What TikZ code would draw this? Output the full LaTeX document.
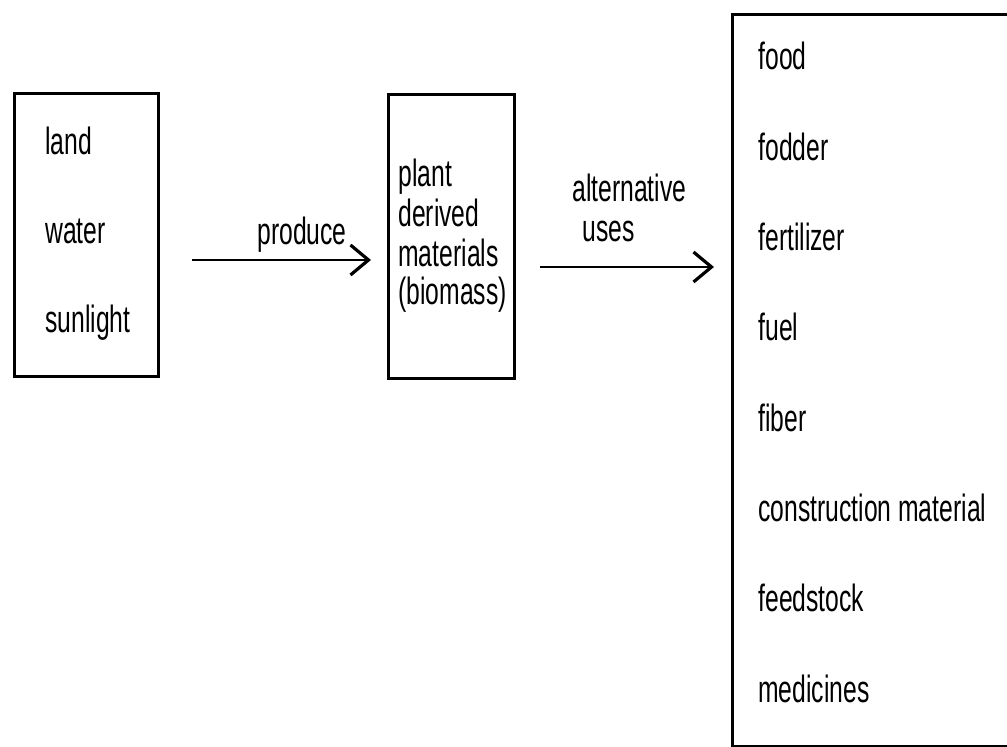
\documentclass[tikz,border=0pt]{standalone}
\usepackage{fontspec}
\setmainfont{Liberation Sans}[FakeStretch=0.65]
\usepackage{tikz}
\usetikzlibrary{positioning, calc, arrows.meta}

\begin{document}
\begin{tikzpicture}[x=0.5pt, y=-0.5pt]
			\tikzset{box/.style={draw, line width=1.3pt, rectangle, anchor=north west, inner sep=0pt}}
			\tikzset{item/.style={anchor=base west, inner sep=0pt, font=\fontsize{19}{19}\selectfont}}
			\tikzset{arrow/.style={line width=1pt, -{Straight Barb[length=9pt, width=15pt, line width=1.6pt]}}}

			\clip (0,0) rectangle (1007,747);

			% boxes
			\node (inputs) [box, minimum width=72pt, minimum height=141.5pt] at (13,92) {};
			\node (biomass) [box, minimum width=63pt, minimum height=142pt] at (387,93) {};
			\node (uses) [box, minimum width=160pt, minimum height=366pt] at (731,13) {};

			% inputs
			\node (land) [item] at (45,155) {land};
			\node (water) [item] at (45,244) {water};
			\node (sun) [item] at (45,333) {sunlight};

			% plant derived materials
			\node (plant) [item] at (398,187) {plant};
			\node (derived) [item] at (398,227) {derived};
			\node (mat) [item] at (398,267) {materials};
			\node (bio) [item] at (398,305) {(biomass)};

			% uses
			\foreach \name [count=\i from 0] in {food, fodder, fertilizer, fuel, fiber, construction material, feedstock, medicines}
				{ \node (use\i) [item] at (758, 70+\i*90.3) {\name}; };

			% arrows
			\coordinate (p0) at (192,260);
			\coordinate (p1) at (371,260);
			\coordinate (a0) at (540,267);
			\coordinate (a1) at (714,267);
			\draw[arrow] (p0) -- (p1);
			\draw[arrow] (a0) -- (a1);
			\node (produce) [item] at (257,245) {produce};
			\node (alt) [item] at (572,202) {alternative};
			\node (altuses) [item] at (582,242) {uses};

		\end{tikzpicture}
\end{document}
